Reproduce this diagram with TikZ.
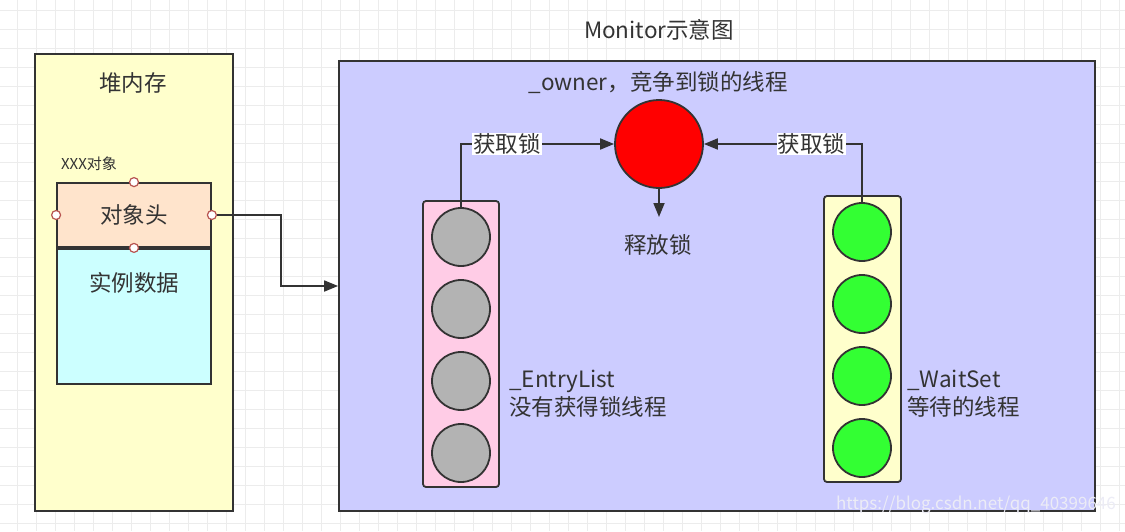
\documentclass[tikz,border=0pt]{standalone}
\usepackage{fontspec}
\setmainfont{Noto Sans CJK SC}
\usepackage{xcolor}
\definecolor{lineg}{RGB}{51,51,51}
\definecolor{txtg}{RGB}{51,51,51}
\definecolor{gridg}{RGB}{236,236,236}
\definecolor{heapyellow}{RGB}{255,255,204}
\definecolor{hdrpeach}{RGB}{255,228,204}
\definecolor{datacyan}{RGB}{204,255,255}
\definecolor{monpurple}{RGB}{204,204,255}
\definecolor{entrypink}{RGB}{255,204,230}
\definecolor{thgray}{RGB}{179,179,179}
\definecolor{thgreen}{RGB}{51,255,51}
\definecolor{handlered}{RGB}{184,84,80}
\definecolor{wmark}{RGB}{236,236,246}
\usetikzlibrary{arrows.meta, positioning}

\begin{document}
\begin{tikzpicture}[x=1pt, y=-1pt,
  box/.style={draw=lineg, line width=1.8pt, inner sep=0pt},
  lbl/.style={text=txtg, font=\fontsize{22.5}{28}\selectfont, inner sep=1pt},
  thread/.style={circle, draw=lineg, line width=1.8pt, minimum size=58pt, inner sep=0pt},
  handle/.style={circle, draw=handlered, fill=white, line width=1.2pt, minimum size=9pt, inner sep=0pt},
  conn/.style={draw=lineg, line width=1.8pt, -{Triangle[length=14pt, width=11pt]}},
]
  \useasboundingbox (0,0) rectangle (1125,531);

  % background grid
  \fill[white] (0,0) rectangle (1125,531);
  \foreach \gx in {17,36,...,1125} \draw[gridg, line width=0.8pt] (\gx,0) -- (\gx,531);
  \foreach \gy in {10,29,...,531} \draw[gridg, line width=0.8pt] (0,\gy) -- (1125,\gy);

  % --- heap ---
  \node[box, fill=heapyellow, minimum width=198pt, minimum height=457pt] (heap) at (134,282.5) {};
  \node[lbl] (heaplbl) at (133,83) {堆内存};
  \node[text=txtg, font=\fontsize{15}{18}\selectfont, inner sep=1pt] (objlbl) at (89,164) {XXX对象};
  \node[box, lbl, fill=hdrpeach, minimum width=154pt, minimum height=64pt, inner sep=0pt] (hdr) at (134,215) {对象头};
  \node[box, fill=datacyan, minimum width=154pt, minimum height=135pt, anchor=north] (data) at (hdr.south) {};
  \node[lbl] (datalbl) at (134,283) {实例数据};

  % --- monitor ---
  \node[box, fill=monpurple, minimum width=756pt, minimum height=450pt] (monitor) at (717,286) {};
  \node[lbl] (montitle) at (659,30) {Monitor示意图};
  \node[lbl] (ownerlbl) at (658,83) {\_owner，竞争到锁的线程};
  \node[thread, fill=red, minimum size=88pt] (owner) at (659,144) {};
  \coordinate (relend) at (659,217);
  \node[lbl] (rel) at (658,245) {释放锁};
  \draw[conn] (owner) -- (relend);

  % entry list
  \node[box, fill=entrypink, rounded corners=3pt, minimum width=76pt, minimum height=286pt] (entry) at (461,344) {};
  \foreach \i/\yy in {1/237,2/309,3/381,4/453}
    \node[thread, fill=thgray] (e\i) at (461,\yy) {};
  \node[lbl, align=left, anchor=west] (entrylbl) at (508,394) {\_EntryList\\没有获得锁线程};

  % wait set
  \node[box, fill=heapyellow, rounded corners=3pt, minimum width=77pt, minimum height=286pt] (wait) at (862.5,339) {};
  \foreach \i/\yy in {1/232,2/304,3/376,4/448}
    \node[thread, fill=thgreen] (w\i) at (862,\yy) {};
  \node[lbl, align=left, anchor=west] (waitlbl) at (906,394) {\_WaitSet\\等待的线程};

  % lock arrows
  \draw[conn] (e1.north) |- node[lbl, fill=white, pos=0.65] {获取锁} (owner.west);
  \draw[conn] (w1.north) |- node[lbl, fill=white, pos=0.66] {获取锁} (owner.east);

  % header to monitor
  \node[handle] (heast) at (hdr.east) {};
  \draw[conn] (heast.east) -- ++(64,0) |- (monitor.west);
  \foreach \a in {north,west,south}
    \node[handle] (h\a) at (hdr.\a) {};

  \node[text=wmark, font=\fontsize{17}{20}\selectfont, anchor=east, inner sep=0pt] (wm) at (1116,505) {https://blog.csdn.net/qq\_40399646};
\end{tikzpicture}
\end{document}
